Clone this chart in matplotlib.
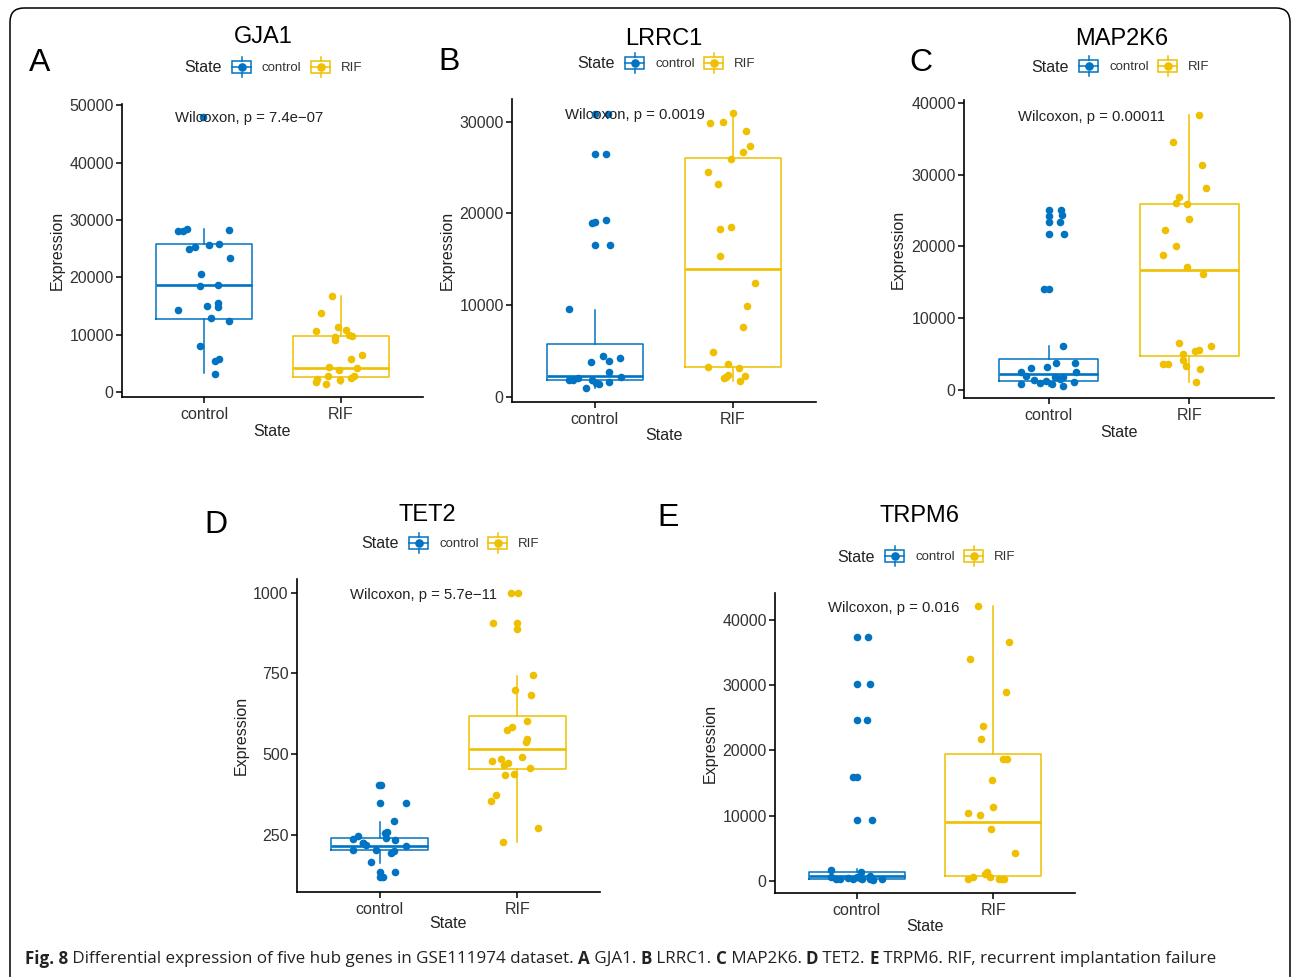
import matplotlib
matplotlib.use("Agg")
import matplotlib.pyplot as plt
import numpy as np
from matplotlib.patches import Rectangle, FancyBboxPatch
from matplotlib.lines import Line2D
from matplotlib.transforms import Affine2D, blended_transform_factory
from matplotlib import font_manager

plt.rcParams['font.family'] = ['Liberation Sans', 'DejaVu Sans']

# ---------------- data ----------------
groups = ["control", "RIF"]
genes = ["GJA1", "LRRC1", "MAP2K6", "TET2", "TRPM6"]
panel_letters = ["A", "B", "C", "D", "E"]
p_labels = ["Wilcoxon, p = 7.4e\u221207", "Wilcoxon, p = 0.0019", "Wilcoxon, p = 0.00011",
            "Wilcoxon, p = 5.7e\u221211", "Wilcoxon, p = 0.016"]

# GJA1
gja1_ctrl = [48000, 28100, 28000, 28400, 28300, 25000, 25300, 25700, 25900, 23300, 20600, 18550,
             18680, 14270, 15000, 15500, 14850, 12880, 12350, 8120, 5500, 5750, 3250]
gja1_ctrl_jit = [-0.005, -0.19, -0.156, -0.127, 0.183, -0.107, -0.063, 0.034, 0.11, 0.19, -0.024, -0.03,
                 0.105, -0.19, 0.024, 0.105, 0.105, 0.054, 0.185, -0.027, 0.08, 0.11, 0.083]
gja1_rif = [16700, 13860, 11370, 10610, 10790, 9920, 9800, 9700, 9050, 6440, 5740, 4400, 3830, 4230,
            2900, 2380, 1860, 2150, 2550, 2840, 1390]
gja1_rif_jit = [-0.066, -0.149, -0.024, -0.183, 0.039, 0.061, 0.08, -0.041, -0.046, 0.156, 0.073, -0.09,
                -0.015, 0.115, -0.098, -0.176, -0.183, -0.005, 0.076, 0.093, -0.11]
gja1_box_ctrl = [3300, 12760, 18680, 25750, 28360]
gja1_box_rif = [1390, 2600, 4230, 9800, 16700]

# LRRC1
lrrc1_ctrl = [30800, 30800, 26500, 26500, 18900, 19050, 19300, 16550, 16550, 9530, 4470, 3820, 3890,
              4220, 2730, 1820, 1820, 2070, 2180, 1820, 1450, 1350, 1640, 980]
lrrc1_ctrl_jit = [0, 0.097, 0, 0.077, -0.024, 0, 0.08, 0, 0.106, -0.19, 0.055, -0.03, 0.104, 0.18, 0.104,
                  -0.19, -0.157, -0.125, 0.19, -0.024, 0.007, 0.03, 0.104, -0.065]
lrrc1_rif = [30980, 29850, 30000, 28980, 27380, 26650, 25900, 24500, 23240, 18330, 18550, 15310, 12400,
             9930, 7600, 4870, 3270, 3530, 3130, 2070, 2360, 2250, 1750, 2180]
lrrc1_rif_jit = [0, -0.169, -0.072, 0.092, 0.121, 0.072, -0.012, -0.183, -0.109, -0.092, -0.012, -0.097,
                 0.159, 0.104, 0.075, -0.147, -0.181, -0.034, 0.043, -0.068, -0.034, 0.084, 0.053, -0.053]
lrrc1_box_ctrl = [980, 1820, 2290, 5750, 9450]
lrrc1_box_rif = [1750, 3270, 13900, 26070, 30980]

# MAP2K6
map2k6_ctrl = [25060, 25060, 24270, 24360, 23430, 23430, 21720, 21720, 14110, 14110, 6130, 3710, 3710,
               3060, 3150, 2460, 2550, 2000, 1860, 1760, 1390, 1250, 1530, 835, 930, 790, 1070, 600]
map2k6_ctrl_jit = [0, 0.085, 0, 0.097, 0, 0.078, 0, 0.111, -0.033, 0, 0.104, 0.054, 0.185, -0.128, -0.012,
                   -0.194, 0.192, -0.159, 0.043, 0.102, -0.106, -0.017, 0.078, -0.194, -0.064, 0.024,
                   0.18, 0.102]
map2k6_rif = [38240, 34480, 31320, 28070, 26910, 25990, 25850, 23800, 22270, 20090, 18840, 17120, 16100,
              6500, 6170, 5570, 5380, 5060, 3620, 3620, 4180, 3340, 2880, 1160]
map2k6_rif_jit = [0.066, -0.116, 0.088, 0.114, -0.076, -0.095, -0.017, -0.005, -0.177, -0.099, -0.189,
                  -0.019, 0.095, -0.071, 0.154, 0.071, 0.04, -0.047, -0.189, -0.154, -0.043, -0.028,
                  0.076, 0.047]
map2k6_box_ctrl = [600, 1300, 2185, 4300, 6100]
map2k6_box_rif = [1160, 4730, 16660, 25850, 38240]

# TET2
tet2_ctrl = [406, 406, 350, 350, 293, 248, 260, 238, 224, 240, 234, 218, 216, 203, 203, 195, 200, 165,
             134, 134, 119, 119, 256, 226]
tet2_ctrl_jit = [-0.005, 0.012, 0.005, 0.189, 0.102, -0.157, 0.056, -0.194, -0.121, 0.048, 0.114, -0.102,
                 0.189, -0.024, -0.194, 0.085, 0.102, -0.061, 0.005, 0.109, 0.0, 0.024, 0.04, -0.12]
tet2_rif = [998, 998, 905, 905, 887, 745, 699, 682, 603, 584, 575, 546, 537, 480, 484, 492, 472, 465,
            458, 435, 439, 373, 355, 271, 227]
tet2_rif_jit = [-0.048, 0.005, -0.177, 0.0, -0.005, 0.114, -0.019, 0.097, 0.073, -0.041, -0.077, 0.073,
                0.061, -0.186, -0.116, 0.036, -0.068, -0.097, 0.09, -0.09, -0.024, -0.153, -0.189,
                0.153, -0.104]
tet2_box_ctrl = [163, 203.6, 216, 240, 291]
tet2_box_rif = [229, 453, 515, 619, 743]

# TRPM6
trpm6_ctrl = [37440, 37440, 30230, 30230, 24650, 24650, 15960, 15960, 9310, 9310, 1590, 1280, 770,
              300, 250, 450, 200, 450, 200, 300, 100, 200, 600, 600]
trpm6_ctrl_jit = [0, 0.083, 0, 0.095, 0, 0.078, -0.029, 0, 0, 0.11, -0.193, 0.032, 0.1,
                  -0.152, -0.127, -0.066, -0.029, 0.02, 0.039, 0.093, 0.117, 0.186, -0.188, 0.0]
trpm6_rif = [42200, 36570, 34020, 29000, 23790, 21740, 18620, 18720, 15400, 11250, 10430, 10080, 7880,
             4250, 1380, 1020, 510, 610, 300, 260, 260, 260]
trpm6_rif_jit = [-0.11, 0.117, -0.171, 0.093, -0.073, -0.093, 0.073, 0.103, -0.012, 0.0, -0.183, -0.098,
                 -0.017, 0.159, -0.042, -0.061, -0.024, -0.147, -0.183, 0.044, 0.081, 0.061]
trpm6_box_ctrl = [100, 215, 700, 1380, 1800]
trpm6_box_rif = [200, 720, 8950, 19440, 42200]

yticks_all = [[0, 10000, 20000, 30000, 40000, 50000],
              [0, 10000, 20000, 30000],
              [0, 10000, 20000, 30000, 40000],
              [250, 500, 750, 1000],
              [0, 10000, 20000, 30000, 40000]]

caption_parts = [("Fig. 8", True),
                 (" Differential expression of five hub genes in GSE111974 dataset. ", False),
                 ("A", True), (" GJA1. ", False), ("B", True), (" LRRC1. ", False),
                 ("C", True), (" MAP2K6. ", False), ("D", True), (" TET2. ", False),
                 ("E", True), (" TRPM6. RIF, recurrent implantation failure", False)]

series = [
    (gja1_ctrl, gja1_ctrl_jit, gja1_rif, gja1_rif_jit, gja1_box_ctrl, gja1_box_rif),
    (lrrc1_ctrl, lrrc1_ctrl_jit, lrrc1_rif, lrrc1_rif_jit, lrrc1_box_ctrl, lrrc1_box_rif),
    (map2k6_ctrl, map2k6_ctrl_jit, map2k6_rif, map2k6_rif_jit, map2k6_box_ctrl, map2k6_box_rif),
    (tet2_ctrl, tet2_ctrl_jit, tet2_rif, tet2_rif_jit, tet2_box_ctrl, tet2_box_rif),
    (trpm6_ctrl, trpm6_ctrl_jit, trpm6_rif, trpm6_rif_jit, trpm6_box_ctrl, trpm6_box_rif),
]

# ---------------- layout (pixels) ----------------
W, H = 1292, 977
BLUE = "#0073C2"
YELLOW = "#EFC000"
colors = [BLUE, YELLOW]

# axes bounds: left, top, right, bottom
ax_px = [(122, 104, 423, 397), (512, 99, 816, 402), (964, 100, 1274, 398),
         (297, 579, 600, 892), (775, 593, 1075, 893)]
ylims = [(-820, 50200), (-578, 32477), (-1114, 40375), (73.6, 1042), (-1887, 44140)]
title_px = [(263, 37), (664, 39), (1122, 39), (427, 515), (919, 516)]
letter_px = [(40, 63), (449, 62), (921, 63), (216, 525), (668, 518)]
legend_px = [(184, 68), (577, 64), (1031, 67), (361, 544), (837, 557)]
ylab_x_px = [57, 447.5, 898.5, 241.5, 710]
xlab_y_px = [432, 436, 432.7, 924, 926.7]
wil_y_px = [118, 115, 117, 595, 608]

fig = plt.figure(figsize=(W / 100, H / 100), dpi=100)
pix = Affine2D().scale(1.0 / W, -1.0 / H).translate(0, 1) + fig.transFigure

TICK_COLOR = "#333333"

for i in range(5):
    l, t, r, b = ax_px[i]
    ax = fig.add_axes([l / W, 1 - b / H, (r - l) / W, (b - t) / H])
    cv, cj, rv, rj, bc, br = series[i]
    stats = []
    for k, bx in enumerate([bc, br]):
        stats.append(dict(whislo=bx[0], q1=bx[1], med=bx[2], q3=bx[3], whishi=bx[4], fliers=[]))
    for k in range(2):
        c = colors[k]
        ax.bxp([stats[k]], positions=[k + 1], widths=0.7, showcaps=False, showfliers=False,
               boxprops=dict(color=c, lw=1.1), whiskerprops=dict(color=c, lw=1.1),
               medianprops=dict(color=c, lw=1.9), manage_ticks=False, zorder=2)
    ax.scatter(1 + np.asarray(cj), cv, s=30, color=BLUE, linewidths=0, zorder=3)
    ax.scatter(2 + np.asarray(rj), rv, s=30, color=YELLOW, linewidths=0, zorder=3)

    ax.set_xlim(0.4, 2.6)
    ax.set_ylim(*ylims[i])
    ax.set_xticks([1, 2])
    ax.set_xticklabels(groups)
    ax.set_yticks(yticks_all[i])
    ax.set_yticklabels([str(v) for v in yticks_all[i]])
    for s in ["top", "right"]:
        ax.spines[s].set_visible(False)
    for s in ["left", "bottom"]:
        ax.spines[s].set_linewidth(1.2)
        ax.spines[s].set_color("black")
    ax.tick_params(axis="both", length=4, width=1.1, color="black", labelsize=11.5,
                   labelcolor=TICK_COLOR)
    ax.tick_params(axis="y", pad=2)
    ax.tick_params(axis="x", pad=3)

    ax.set_ylabel("Expression", fontsize=11.5, va="center", color="#222222")
    ax.yaxis.set_label_coords((ylab_x_px[i] - l) / (r - l), 0.5)
    ax.set_xlabel("State", fontsize=11.5, va="center", color="#222222")
    ax.xaxis.set_label_coords(0.5, (b - xlab_y_px[i]) / (b - t))

    trans = blended_transform_factory(ax.transData, ax.transAxes)
    ax.text(0.785, (b - wil_y_px[i]) / (b - t), p_labels[i], transform=trans, ha="left",
            va="center", fontsize=10.7, color="#222222", zorder=4)

    tx, ty = title_px[i]
    fig.text(tx / W, 1 - ty / H, genes[i], ha="center", va="center", fontsize=17)
    lx, ly = letter_px[i]
    fig.text(lx / W, 1 - ly / H, panel_letters[i], ha="center", va="center", fontsize=23)

    # legend
    sx, sy = legend_px[i]
    fig.text(sx / W, 1 - sy / H, "State", ha="left", va="center", fontsize=11.5, color="#222222")
    for k, lab in enumerate(groups):
        c = colors[k]
        kx = sx + 48 + k * 79
        ky = sy - 1
        fig.add_artist(Rectangle((kx, ky - 6), 19, 12, transform=pix, fill=False, ec=c, lw=1.1))
        fig.add_artist(Line2D([kx, kx + 19], [ky, ky], transform=pix, color=c, lw=1.1))
        fig.add_artist(Line2D([kx + 9.5, kx + 9.5], [ky - 10, ky - 6], transform=pix, color=c, lw=1.1))
        fig.add_artist(Line2D([kx + 9.5, kx + 9.5], [ky + 6, ky + 10], transform=pix, color=c, lw=1.1))
        fig.add_artist(Line2D([kx + 9.5], [ky], transform=pix, marker="o", ms=5.2, color=c, lw=0))
        fig.text((kx + 30) / W, 1 - sy / H, lab, ha="left", va="center", fontsize=9.5, color="#333333")

# frame
fig.add_artist(FancyBboxPatch((10, 8), 1280, 1000, boxstyle="round,pad=0,rounding_size=14",
                              transform=pix, fill=False, ec="black", lw=1.1))

# caption
names = {f.name for f in font_manager.fontManager.ttflist}
cap_font = ["Liberation Sans Narrow"] if "Liberation Sans Narrow" in names else ["Open Sans"]
renderer = fig.canvas.get_renderer()


def text_width(s, bold, size):
    t1 = fig.text(0, 0, "x" + s + "x", fontsize=size, family=cap_font,
                  fontweight="bold" if bold else "normal")
    t2 = fig.text(0, 0, "xx", fontsize=size, family=cap_font,
                  fontweight="bold" if bold else "normal")
    w = t1.get_window_extent(renderer).width - t2.get_window_extent(renderer).width
    t1.remove()
    t2.remove()
    return w


base = 12.0
total = sum(text_width(s, bd, base) for s, bd in caption_parts)
size = base * (1185.0 / total)
x = 25.0
for s, bd in caption_parts:
    fig.text(x / W, 1 - 959 / H, s, fontsize=size, family=cap_font,
             fontweight="bold" if bd else "normal", ha="left", va="center", color="#222222")
    x += text_width(s, bd, size)

fig.savefig("out.png", dpi=100)
